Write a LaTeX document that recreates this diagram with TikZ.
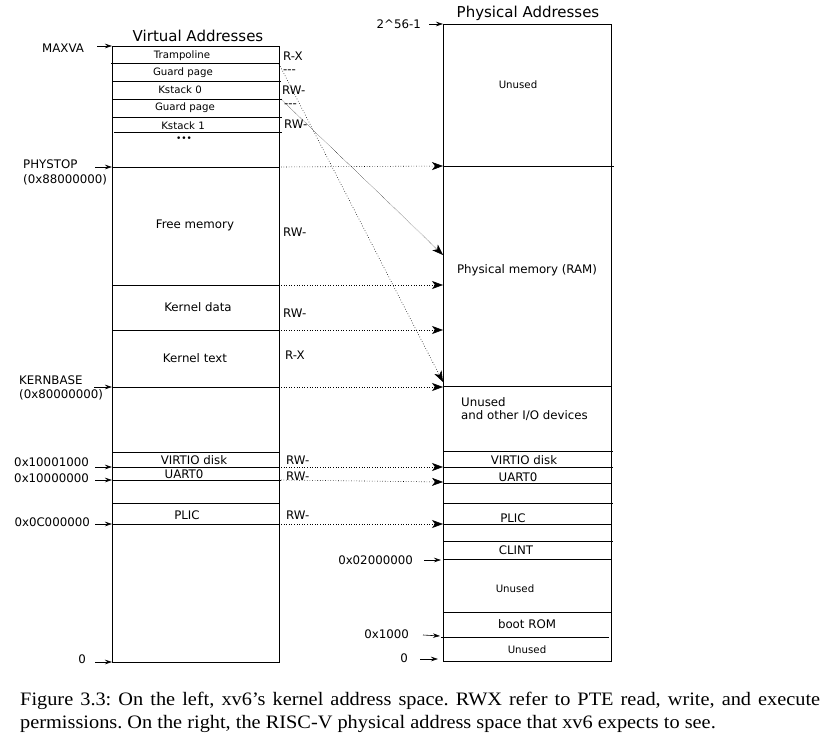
\documentclass[tikz,border=0pt]{standalone}
\usepackage{fontspec}
\setmainfont{DejaVu Sans}
\newfontfamily\capfont[FakeStretch=1.07]{Liberation Serif}
\usetikzlibrary{arrows.meta}
\begin{document}
\begin{tikzpicture}[x=1pt,y=-1pt,
  box/.style={line width=0.85pt},
  sep/.style={line width=0.85pt},
  mapto/.style={dotted, line width=0.6pt, -{Stealth[length=11pt,width=8pt,inset=3pt]}},
  mapdiag/.style={densely dotted, line width=0.45pt, -{Stealth[length=11pt,width=8pt,inset=3pt]}},
  ptr/.style={line width=0.6pt, -{Stealth[length=7pt,width=4.5pt]}},
  lab/.style={font=\fontsize{11.8}{13}\selectfont, inner sep=0pt},
  small/.style={font=\fontsize{10.2}{11}\selectfont, inner sep=0pt},
  ttl/.style={font=\fontsize{15}{17}\selectfont, inner sep=0pt}]
\useasboundingbox (0,0) rectangle (830,741);
\fill[white] (0,0) rectangle (830,741);

% ---------- Virtual address box ----------
\node[ttl] (vtitle) at (198,36) {Virtual Addresses};
\draw[box] (112,46) rectangle (279,662);
\foreach \yy/\xa/\xb in {63/111/279, 81/112/281, 99/112/282, 117/112/282, 132/114/282,
  167/112/279, 285/112/279, 330/112/279, 387/112/279, 452/112/279, 467/112/279,
  480/112/281, 503/112/279, 524/112/279}
  \draw[sep] (\xa,\yy) -- (\xb,\yy);

\node[small] (vtramp) at (182,56) {Trampoline};
\node[small] (vguard0) at (183,73) {Guard page};
\node[small] (vks0) at (180,90) {Kstack 0};
\node[small] (vguard1) at (185,108) {Guard page};
\node[small] (vks1) at (183,126) {Kstack 1};
\node[font=\fontsize{9}{9}\selectfont, inner sep=0pt] (vdots) at (184,139) {•••};
\node[lab] (vfree) at (195,225) {Free memory};
\node[lab] (vkdata) at (198,307) {Kernel data};
\node[lab] (vktext) at (195,358) {Kernel text};
\node[lab] (vvirtio) at (194,460) {VIRTIO disk};
\node[lab] (vuart) at (184,474) {UART0};
\node[lab] (vplic) at (187,515) {PLIC};

% permissions
\node[lab, anchor=west] (p1) at (283,56) {R-X};
\node[lab, anchor=west] (p2) at (283,72) {-{}-{}-};
\node[lab, anchor=west] (p3) at (282,90) {RW-};
\node[lab, anchor=west] (p4) at (284,106) {-{}-{}-};
\node[lab, anchor=west] (p5) at (284,124) {RW-};
\node[lab, anchor=west] (p6) at (283,232) {RW-};
\node[lab, anchor=west] (p7) at (283,313) {RW-};
\node[lab, anchor=west] (p8) at (285,355) {R-X};
\node[lab, anchor=west] (p9) at (286,460) {RW-};
\node[lab, anchor=west] (p10) at (286,476) {RW-};
\node[lab, anchor=west] (p11) at (286,515) {RW-};

% left address labels
\node[lab, anchor=west] (lmax) at (42,48) {MAXVA};
\node[lab, anchor=west] (lphys) at (23,164) {PHYSTOP};
\node[lab, anchor=west] (lphysv) at (23,180) {(0x88000000)};
\node[lab, anchor=west] (lkern) at (19,380) {KERNBASE};
\node[lab, anchor=west] (lkernv) at (19,395) {(0x80000000)};
\node[lab, anchor=east] (lvirtio) at (89,462) {0x10001000};
\node[lab, anchor=east] (luart) at (89,478) {0x10000000};
\node[lab, anchor=east] (lplic) at (90,522) {0x0C000000};
\node[lab, anchor=east] (lzero) at (86,659) {0};

\coordinate (amax0) at (97,46);   \coordinate (amax1) at (112,46);
\coordinate (aphy0) at (95,167);  \coordinate (aphy1) at (112,167);
\coordinate (aker0) at (94,387);  \coordinate (aker1) at (112,387);
\coordinate (avir0) at (95,467);  \coordinate (avir1) at (112,467);
\coordinate (auar0) at (95,480);  \coordinate (auar1) at (112,480);
\coordinate (apli0) at (95,524);  \coordinate (apli1) at (112,524);
\coordinate (azer0) at (95,662);  \coordinate (azer1) at (112,662);
\draw[ptr] (amax0) -- (amax1);
\draw[ptr] (aphy0) -- (aphy1);
\draw[ptr] (aker0) -- (aker1);
\draw[ptr] (avir0) -- (avir1);
\draw[ptr] (auar0) -- (auar1);
\draw[ptr] (apli0) -- (apli1);
\draw[ptr] (azer0) -- (azer1);

% ---------- Physical address box ----------
\node[ttl] (ptitle) at (528,13) {Physical Addresses};
\draw[box] (443,24) rectangle (611,661);
\foreach \yy/\xa/\xb in {166/443/614, 386/443/611, 451/443/613, 467/443/613,
  483/443/611, 503/443/613, 524/443/611, 541/443/613, 559/443/611, 612/443/611,
  637/441/609}
  \draw[sep] (\xa,\yy) -- (\xb,\yy);

\node[small] (punused1) at (518,85) {Unused};
\node[lab] (pram) at (527,270) {Physical memory (RAM)};
\node[lab, anchor=west] (pio1) at (461,402) {Unused};
\node[lab, anchor=west] (pio2) at (461,416) {and other I/O devices};
\node[lab] (pvirtio) at (524,460) {VIRTIO disk};
\node[lab] (puart) at (518,477) {UART0};
\node[lab] (pplic) at (513,518) {PLIC};
\node[lab] (pclint) at (516,550) {CLINT};
\node[small] (punused2) at (515,589) {Unused};
\node[lab] (pboot) at (527,624) {boot ROM};
\node[small] (punused3) at (527,650) {Unused};

\node[lab, anchor=east] (rtop) at (421,24) {2\^{}56-1};
\node[lab, anchor=east] (rclint) at (413,560) {0x02000000};
\node[lab, anchor=east] (rboot) at (409,634) {0x1000};
\node[lab, anchor=east] (rzero) at (408,658) {0};

\coordinate (btop0) at (429,24);   \coordinate (btop1) at (443,24);
\coordinate (bcl0) at (424,560);   \coordinate (bcl1) at (441,560);
\coordinate (bbo0) at (423,635);   \coordinate (bbo1) at (440,636);
\coordinate (bze0) at (420,659);   \coordinate (bze1) at (438,659);
\draw[ptr] (btop0) -- (btop1);
\draw[ptr] (bcl0) -- (bcl1);
\draw[ptr] (bbo0) -- (bbo1);
\draw[ptr] (bze0) -- (bze1);

% ---------- mappings ----------
\coordinate (m1a) at (281,167); \coordinate (m1b) at (443,166);
\coordinate (m2a) at (281,285); \coordinate (m2b) at (443,285);
\coordinate (m3a) at (281,330); \coordinate (m3b) at (443,330);
\coordinate (m4a) at (281,387); \coordinate (m4b) at (443,387);
\coordinate (m5a) at (281,467); \coordinate (m5b) at (443,467);
\coordinate (m6a) at (281,480); \coordinate (m6b) at (443,482);
\coordinate (m7a) at (281,524); \coordinate (m7b) at (443,524);
\coordinate (d1a) at (279,64);  \coordinate (d1b) at (443,382);
\coordinate (d2a) at (281,99);  \coordinate (d2b) at (443,255);
\draw[mapto] (m1a) -- (m1b);
\draw[mapto] (m2a) -- (m2b);
\draw[mapto] (m3a) -- (m3b);
\draw[mapto] (m4a) -- (m4b);
\draw[mapto] (m5a) -- (m5b);
\draw[mapto] (m6a) -- (m6b);
\draw[mapto] (m7a) -- (m7b);
\draw[mapto] (d1a) -- (d1b);
\draw[mapdiag] (d2a) -- (d2b);

% ---------- caption ----------
\node[anchor=north west, inner sep=0pt, text width=800pt, align=justify,
  font=\capfont\fontsize{19}{23}\selectfont\frenchspacing] (cap) at (20,692)
  {Figure 3.3: On the left, xv6’s kernel address space. RWX refer to PTE read, write, and execute\linebreak
   permissions. On the right, the RISC-V physical address space that xv6 expects to see.};
\end{tikzpicture}
\end{document}
